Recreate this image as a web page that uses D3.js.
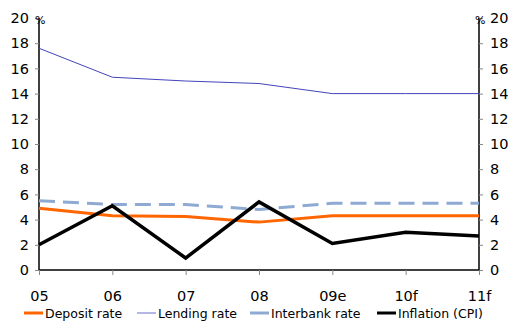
<!DOCTYPE html>
<html><head><meta charset="utf-8">
<script src="https://cdn.jsdelivr.net/npm/d3@7"></script>
<style>body{margin:0;background:#fff}svg{display:block}text{font-family:"DejaVu Sans",Verdana,sans-serif}</style>
</head><body><svg id="c" width="515" height="324"></svg>
<script>
const categories = ["05","06","07","08","09e","10f","11f"];
const deposit   = [4.9, 4.3, 4.25, 3.8, 4.3, 4.3, 4.3];
const lending   = [17.6, 15.3, 15.0, 14.8, 14.0, 14.0, 14.0];
const interbank = [5.5, 5.2, 5.2, 4.8, 5.3, 5.3, 5.3];
const inflation = [2.0, 5.1, 0.95, 5.4, 2.1, 3.0, 2.7];
const yTicks = [0,2,4,6,8,10,12,14,16,18,20];
const seriesNames = ["Deposit rate","Lending rate","Interbank rate","Inflation (CPI)"];

const svg = d3.select("#c");
const L = 39, R = 479, T = 18, B = 270;
const x = d3.scalePoint().domain(categories).range([L, R]);
const y = d3.scaleLinear().domain([0, 20]).range([B, T]);

const yl = svg.append("g").attr("transform", `translate(${L},0)`)
  .call(d3.axisLeft(y).tickValues(yTicks).tickSize(4).tickPadding(6));
const yr = svg.append("g").attr("transform", `translate(${R},0)`)
  .call(d3.axisRight(y).tickValues(yTicks).tickSize(4).tickPadding(7));
const xa = svg.append("g").attr("transform", `translate(0,${B})`)
  .call(d3.axisBottom(x).tickSize(5).tickPadding(16));
[yl, yr, xa].forEach(g => {
  g.select(".domain").attr("stroke", "#000").attr("stroke-width", 1.5);
  g.selectAll(".tick line").attr("stroke", "#888");
  g.selectAll(".tick text").attr("font-size", 14.5).attr("fill", "#000")
   .attr("font-family", '"DejaVu Sans",Verdana,sans-serif');
});
xa.select(".domain").attr("d", `M${L},0H${R}`);
yl.select(".domain").attr("d", `M0,${B}V${T}`);
yr.select(".domain").attr("d", `M0,${B}V${T}`);

svg.append("text").attr("x", L - 4).attr("y", T + 6).attr("font-size", 11).text("%");
svg.append("text").attr("x", R - 4).attr("y", T + 6).attr("font-size", 11).text("%");

const line = d3.line().x((d, i) => x(categories[i])).y(d => y(d));
const styles = [
  {data: deposit, color: "#ff6600", w: 3, dash: null},
  {data: lending, color: "#4444bb", w: 1, dash: null},
  {data: interbank, color: "#8eaad2", w: 3, dash: "16,8"},
  {data: inflation, color: "#000", w: 3.5, dash: null}
];
styles.forEach(s => {
  svg.append("path").datum(s.data).attr("d", line).attr("fill", "none")
    .attr("stroke", s.color).attr("stroke-width", s.w)
    .attr("stroke-dasharray", s.dash);
});

const legX = [24, 137, 250, 377];
seriesNames.forEach((n, i) => {
  const g = svg.append("g").attr("transform", `translate(${legX[i]},313)`);
  g.append("line").attr("x1", 0).attr("x2", 19).attr("y1", 0).attr("y2", 0)
    .attr("stroke", i === 1 ? "#6f6fcc" : styles[i].color).attr("stroke-width", i === 1 ? 1 : 3);
  g.append("text").attr("x", 21).attr("y", 5).attr("font-size", 12.5).text(n);
});
</script></body></html>
